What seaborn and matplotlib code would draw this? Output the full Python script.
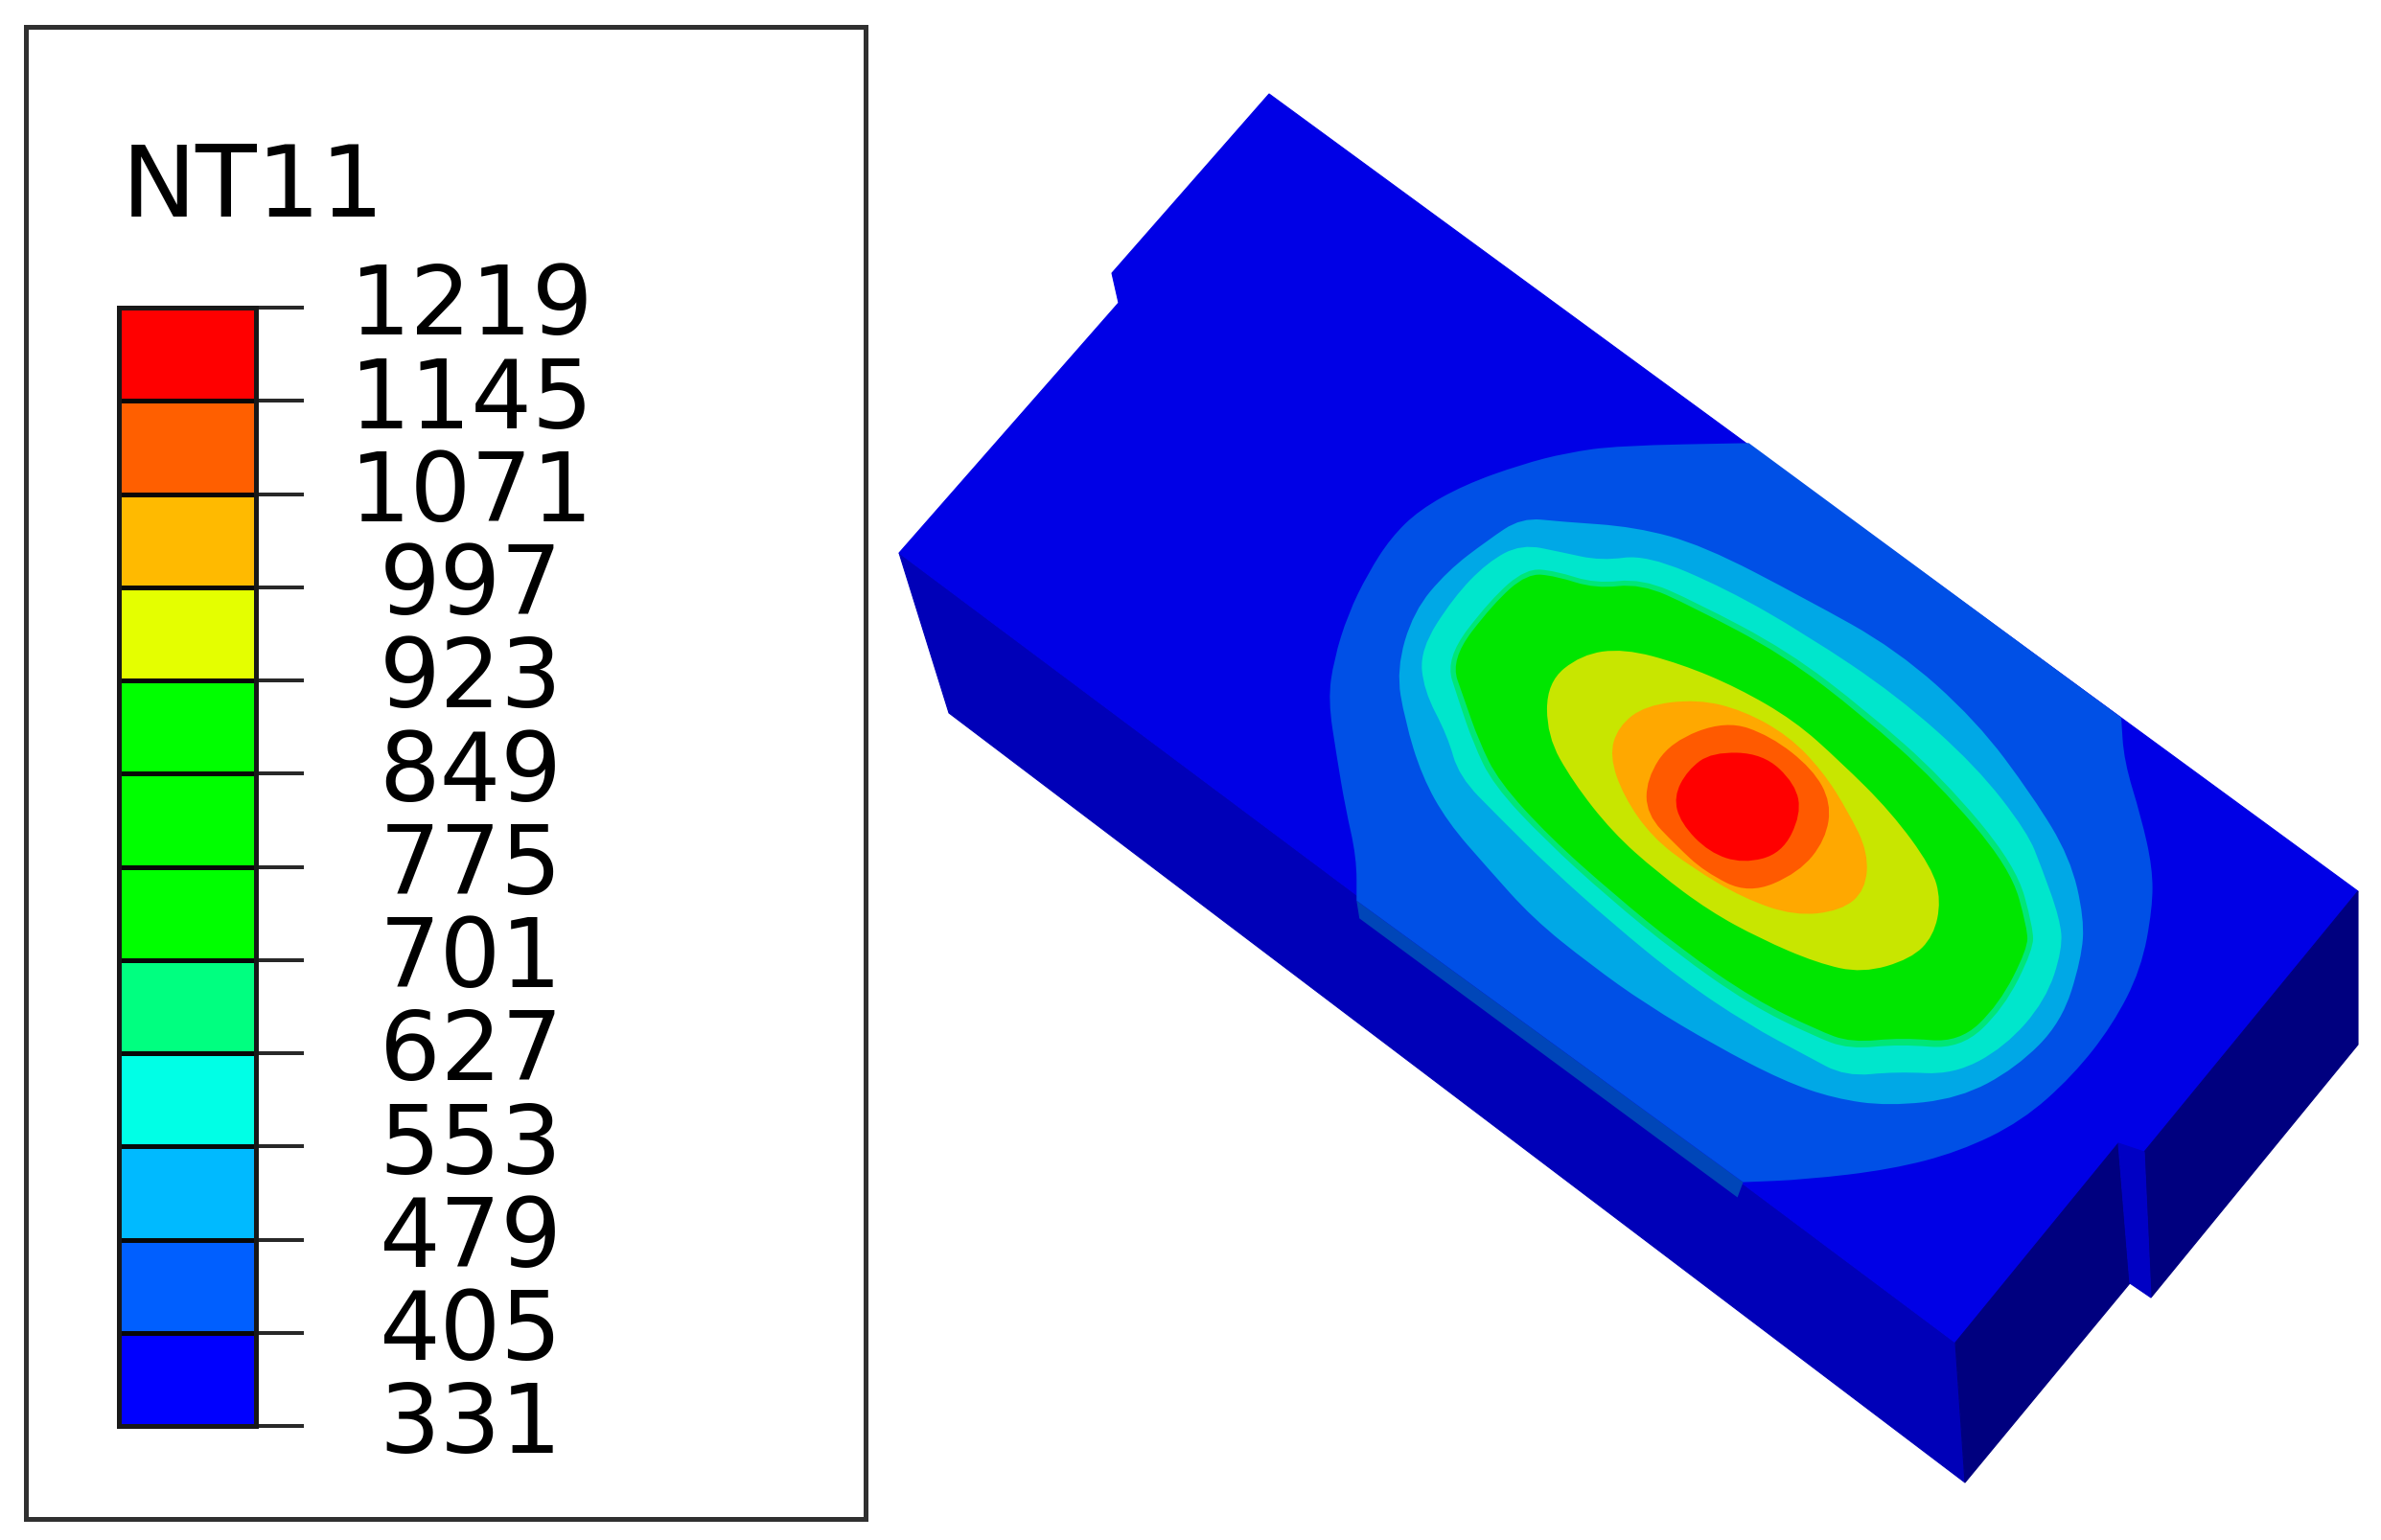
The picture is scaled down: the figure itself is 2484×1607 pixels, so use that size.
import numpy as np
import matplotlib
matplotlib.use('Agg')
import matplotlib.pyplot as plt
from matplotlib.colors import ListedColormap, BoundaryNorm
from matplotlib.patches import Rectangle, PathPatch
from matplotlib.path import Path
import seaborn as sns

# ─── LEGEND DATA ─────────────────────────────────────────────
levels = [331, 405, 479, 553, 627, 701, 775, 849, 923, 997, 1071, 1145, 1219]
band_colors = ['#0000ff', '#005fff', '#00baff', '#00ffe6', '#00ff80', '#00ff00',
               '#00ff00', '#00ff00', '#e4ff00', '#ffba00', '#ff5f00', '#ff0000']

# ─── SOLID FACES (image pixels) ──────────────────────────────
top_x = [938, 1167, 1160, 1324, 2460, 2237, 2210, 2040]
top_y = [578, 317, 286, 99, 931, 1203, 1205, 1402]
front_x = [938, 2040, 2050, 990]
front_y = [578, 1402, 1548, 745]
right_a_x = [2040, 2210, 2222, 2050]
right_a_y = [1402, 1194, 1340, 1548]
right_b_x = [2237, 2460, 2460, 2244]
right_b_y = [1203, 931, 1091, 1355]
slot_x = [2210, 2237, 2244, 2222]
slot_y = [1194, 1203, 1355, 1340]

# ─── CONTOUR OUTLINES (units of the contour axes) ────────────
b405_x = [800, 800, 570, 480, 400, 300, 220, 170, 130, 95, 70, 60, 75, 90, 110, 110, 110, 790, 790, 900, 1050, 1170, 1280, 1370, 1440, 1490, 1510, 1510, 1490, 1460, 1455, 1455]
b405_y = [63, 63, 68, 82, 105, 145, 195, 250, 320, 400, 490, 570, 680, 780, 880, 965, 965, 1520, 1520, 1515, 1495, 1460, 1400, 1310, 1210, 1100, 980, 900, 800, 690, 604, 604]
strip_x = [110, 790, 780, 115]
strip_y = [965, 1520, 1550, 1000]
b479_x = [400, 340, 270, 210, 180, 195, 225, 270, 340, 420, 520, 620, 740, 860, 950, 1045, 1170, 1270, 1350, 1385, 1390, 1365, 1300, 1200, 1060, 900, 720, 600, 470]
b479_y = [210, 255, 315, 395, 510, 610, 720, 810, 900, 1000, 1090, 1170, 1250, 1320, 1355, 1370, 1355, 1295, 1205, 1080, 1000, 880, 760, 610, 470, 370, 265, 228, 218]
b553_x = [400, 340, 280, 222, 228, 270, 290, 360, 450, 560, 680, 800, 900, 970, 1060, 1160, 1250, 1322, 1352, 1347, 1315, 1290, 1200, 1060, 900, 760, 620, 540, 470]
b553_y = [262, 298, 368, 470, 550, 640, 720, 800, 900, 1010, 1120, 1210, 1270, 1312, 1302, 1308, 1254, 1162, 1060, 1000, 900, 830, 700, 560, 440, 350, 283, 295, 278]
b627_x = [408, 345, 266, 290, 315, 350, 442, 552, 672, 802, 914, 976, 1066, 1172, 1248, 1300, 1300, 1270, 1140, 1008, 868, 706, 612, 530, 460]
b627_y = [310, 372, 488, 572, 654, 736, 846, 958, 1068, 1170, 1232, 1258, 1248, 1258, 1178, 1062, 1018, 896, 722, 592, 472, 376, 330, 340, 315]
b701_x = [410, 350, 275, 300, 325, 360, 450, 560, 680, 810, 920, 980, 1070, 1170, 1240, 1290, 1290, 1260, 1130, 1000, 860, 700, 610, 530, 460]
b701_y = [320, 380, 490, 570, 650, 730, 840, 950, 1060, 1160, 1220, 1245, 1235, 1245, 1170, 1060, 1020, 900, 730, 600, 480, 385, 340, 350, 325]
b923_x = [505, 580, 680, 780, 880, 960, 1050, 1122, 1138, 1125, 1085, 1000, 920, 820, 730, 640, 560, 490, 445, 445]
b923_y = [480, 468, 498, 545, 610, 690, 790, 900, 965, 1035, 1080, 1108, 1088, 1040, 985, 910, 830, 730, 640, 535]
b997_x = [618, 710, 790, 870, 930, 975, 1010, 1005, 962, 880, 790, 700, 630, 580, 555, 570]
b997_y = [580, 568, 590, 640, 710, 790, 870, 945, 985, 995, 960, 900, 840, 760, 680, 622]
b1071_x = [760, 838, 912, 945, 935, 888, 800, 722, 672, 620, 620, 662]
b1071_y = [610, 640, 705, 772, 845, 910, 952, 908, 856, 795, 725, 652]
b1145_x = [735, 825, 882, 892, 858, 790, 730, 680, 668, 692]
b1145_y = [672, 675, 735, 795, 872, 892, 870, 812, 760, 708]

W, H = 2484, 1608
DPI = 200
PX = 72 / DPI   # points per image pixel


def smooth_fill(ax, xs, ys, color):
    # closed quadratic curve with the outline points as control points
    pts = np.column_stack([xs, ys])
    mids = (pts + np.roll(pts, -1, axis=0)) / 2
    verts = [mids[-1]]
    codes = [Path.MOVETO]
    for p, m in zip(pts, mids):
        verts += [p, m]
        codes += [Path.CURVE3, Path.CURVE3]
    ax.add_patch(PathPatch(Path(verts, codes), facecolor=color, edgecolor='none', linewidth=0))


sns.set_theme(style='white')
plt.rcParams['font.family'] = ['DejaVu Sans']

fig = plt.figure(figsize=(W / DPI, H / DPI), dpi=DPI, facecolor='white')

# full image axes, y down
ax = fig.add_axes([0, 0, 1, 1])
ax.set_xlim(0, W)
ax.set_ylim(H, 0)
ax.axis('off')

# legend frame + title
ax.add_patch(Rectangle((27, 29), 876, 1557, fill=False, edgecolor='#303030', linewidth=5 * PX))
ax.text(127, 197, 'NT11', fontsize=37.5, color='black', ha='left', va='center')

# solid body
for xs, ys, col in [(front_x, front_y, '#0000b8'), (top_x, top_y, '#0000e6'),
                    (right_a_x, right_a_y, '#00007f'), (right_b_x, right_b_y, '#00007f'),
                    (slot_x, slot_y, '#0000c4')]:
    ax.fill(xs, ys, facecolor=col, edgecolor=col, linewidth=0.4)

# contour bands
ax_c = fig.add_axes([1350 / W, 1 - 1260 / H, 930 / W, 830 / H])
ax_c.set_xlim(0, 1568)
ax_c.set_ylim(1568, 0)
ax_c.axis('off')
ax_c.patch.set_alpha(0)
ax_c.fill(strip_x, strip_y, color='#0046b8', linewidth=0)
smooth_fill(ax_c, b405_x, b405_y, '#0050e6')
smooth_fill(ax_c, b479_x, b479_y, '#00a8e6')
smooth_fill(ax_c, b553_x, b553_y, '#00e6cc')
smooth_fill(ax_c, b627_x, b627_y, '#00e678')
smooth_fill(ax_c, b701_x, b701_y, '#00e600')
smooth_fill(ax_c, b923_x, b923_y, '#c8e600')
smooth_fill(ax_c, b997_x, b997_y, '#ffa800')
smooth_fill(ax_c, b1071_x, b1071_y, '#ff5a00')
smooth_fill(ax_c, b1145_x, b1145_y, '#ff0000')

# colour bar
ax_b = fig.add_axes([124 / W, 1 - 1489 / H, 143 / W, 1167 / H])
band_table = np.array(levels[:-1][::-1]).reshape(-1, 1)
sns.heatmap(band_table, ax=ax_b, cmap=ListedColormap(band_colors),
            norm=BoundaryNorm(levels, 12), cbar=False,
            linewidths=5 * PX, linecolor='#080808', xticklabels=False)
for spine in ax_b.spines.values():
    spine.set_visible(True)
    spine.set_linewidth(5 * PX)
    spine.set_color('#181818')
ax_b.yaxis.tick_right()
ax_b.set_yticks(np.arange(13))
ax_b.set_yticklabels([str(v) for v in levels[::-1]], rotation=0, ha='center', va='center',
                     fontsize=36, color='black')
ax_b.tick_params(axis='y', right=True, left=False, length=50 * PX, width=4 * PX,
                 color='#282828', pad=174 * PX)

fig.savefig('out.png', dpi=DPI, facecolor='white')
